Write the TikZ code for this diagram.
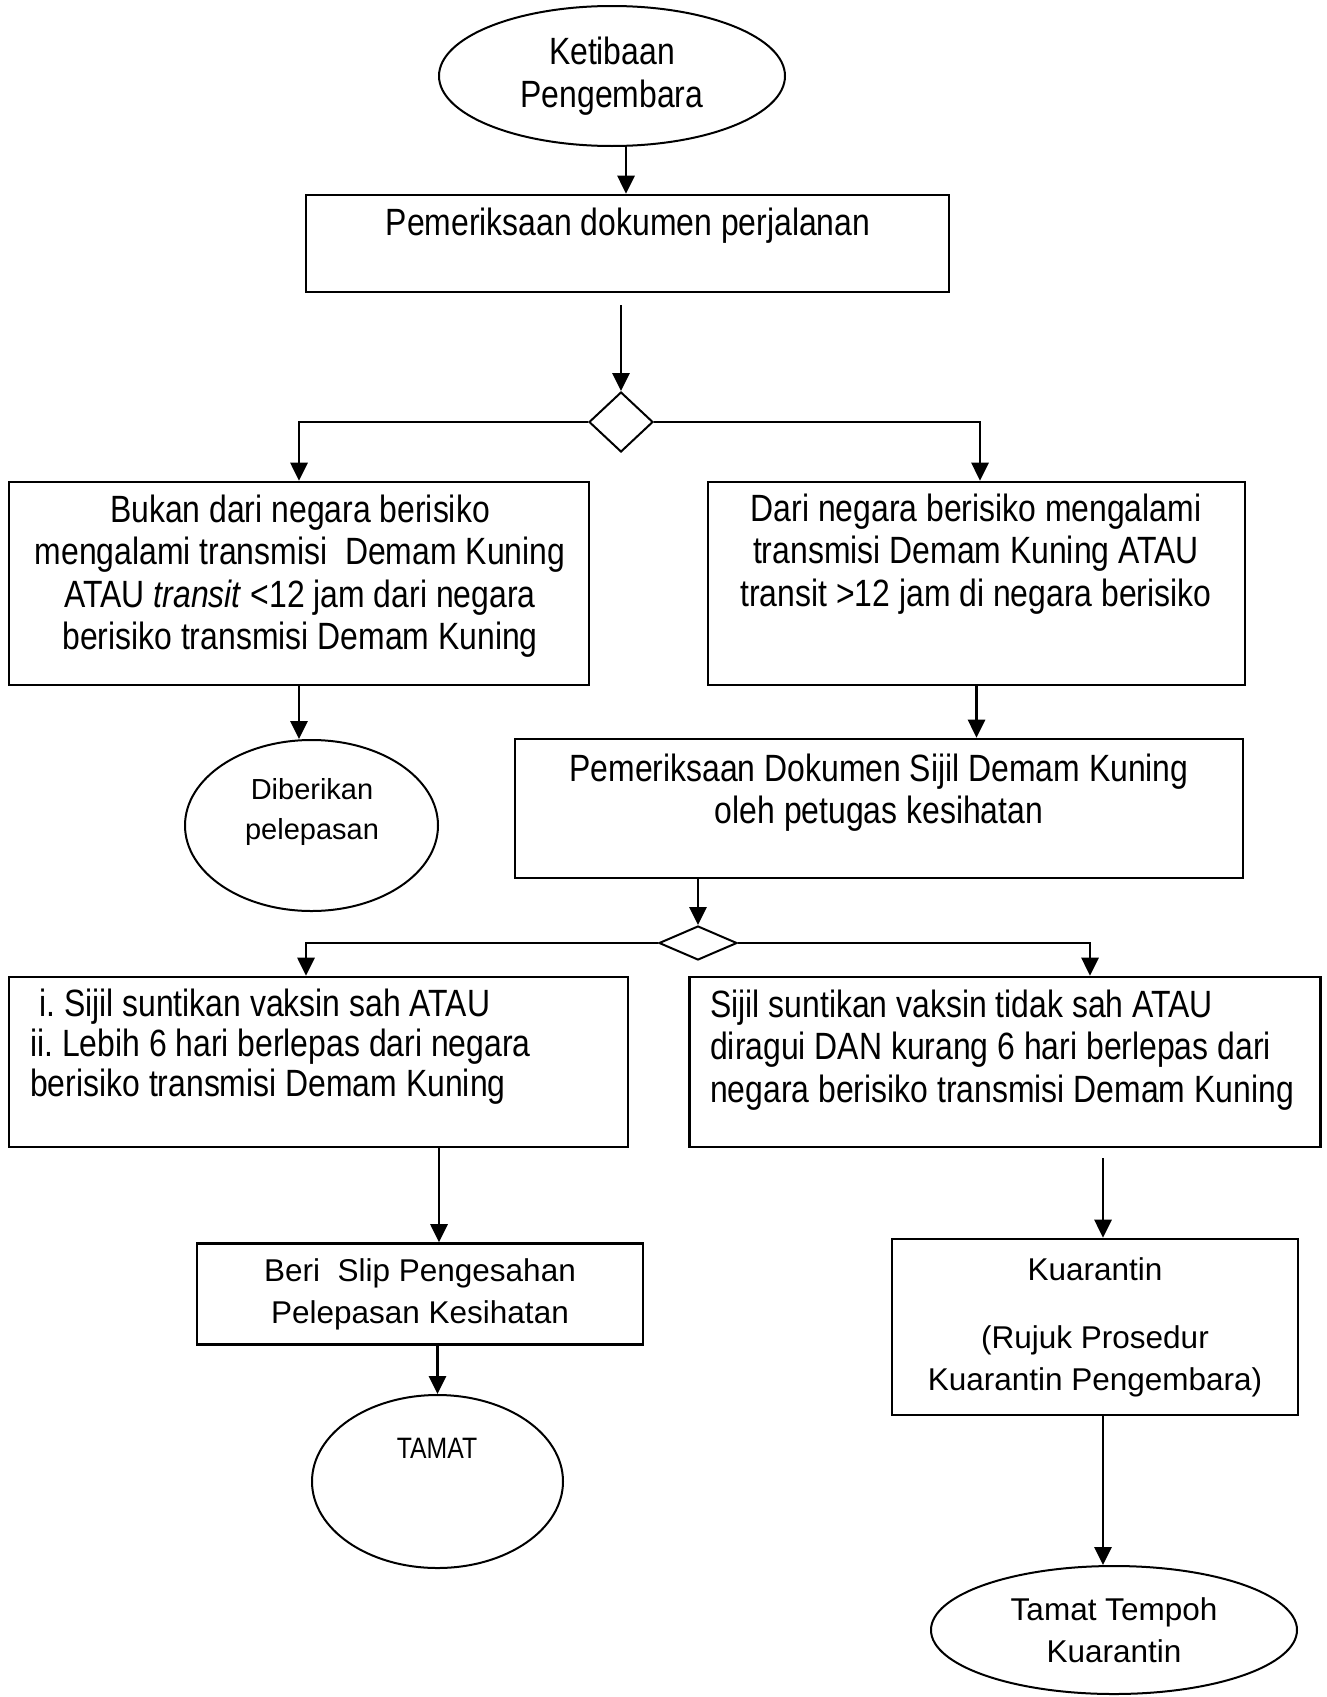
\documentclass[tikz,border=0pt]{standalone}
\usepackage{fontspec}
\setmainfont{Liberation Sans}
\newfontfamily\narrowfont[FakeStretch=0.84]{Liberation Sans}
\usetikzlibrary{shapes.geometric, arrows.meta}
\frenchspacing

\begin{document}
\begin{tikzpicture}[
  x = 1pt, y = -1pt,
  box/.style={draw, line width=2.6pt, rectangle, inner sep=0pt},
  oval/.style={draw, line width=2pt, ellipse, inner sep=0pt},
  choice/.style={draw, line width=2pt, diamond, inner sep=0pt},
  narrowtext/.style={font=\narrowfont\fontsize{38}{42.5}\selectfont, inner sep=0pt},
  plaintext/.style={font=\fontsize{31.5}{42}\selectfont, inner sep=0pt},
  arrow/.style={-{Triangle[length=18pt, width=17pt]}, line width=2.8pt, color=black}
]
    \useasboundingbox (0, 0) rectangle (1327, 1697);

    % Arrival
    \node (arrive) at (612, 76) [oval, minimum width=346pt, minimum height=140pt, narrowtext, align=center] {Ketibaan\\Pengembara};

    % Travel document check
    \node (chk) at (627.5, 243.5) [box, minimum width=643pt, minimum height=97pt] {};
    \node (chkT) at (628, 226) [narrowtext] {Pemeriksaan dokumen perjalanan};

    % Decision 1
    \node (dec1) at (621, 422) [choice, minimum width=64pt, minimum height=60pt] {};

    % Not from a risk country
    \node (nrisk) at (299, 583.5) [box, minimum width=580pt, minimum height=203pt] {};
    \node (nriskT) at (300, 576) [narrowtext, align=center] {Bukan dari negara berisiko\\mengalami transmisi\ \ Demam Kuning\\ATAU \textit{transit} <12 jam dari negara\\berisiko transmisi Demam Kuning};

    % From a risk country
    \node (risk) at (976.5, 583.5) [box, minimum width=537pt, minimum height=203pt] {};
    \node (riskT) at (976, 554) [narrowtext, align=center] {Dari negara berisiko mengalami\\transmisi Demam Kuning ATAU\\transit >12 jam di negara berisiko};

    % Released
    \node (free) at (311.5, 825.5) [oval, minimum width=253pt, minimum height=171pt] {};
    \node (freeT) at (312, 812) [plaintext, font=\fontsize{29}{40}\selectfont, align=center] {Diberikan\\pelepasan};

    % Certificate check
    \node (sijil) at (879, 808.5) [box, minimum width=728pt, minimum height=139pt] {};
    \node (sijilT) at (879, 792.5) [narrowtext, align=center] {Pemeriksaan Dokumen Sijil Demam Kuning\\oleh petugas kesihatan};

    % Decision 2
    \node (dec2) at (698, 943) [choice, minimum width=78pt, minimum height=34pt] {};

    % Valid certificate
    \node (vac) at (318.5, 1062) [box, minimum width=619pt, minimum height=170pt] {};
    \node (vacT) at (30, 1047) [narrowtext, font=\narrowfont\fontsize{38}{40}\selectfont, anchor=west, align=left] {\hspace*{9pt}i. Sijil suntikan vaksin sah ATAU\\ii. Lebih 6 hari berlepas dari negara\\berisiko transmisi Demam Kuning};

    % Invalid certificate
    \node (novac) at (1005, 1062) [box, minimum width=631pt, minimum height=170pt] {};
    \node (novacT) at (710, 1050) [narrowtext, anchor=west, align=left] {Sijil suntikan vaksin tidak sah ATAU\\diragui DAN kurang 6 hari berlepas dari\\negara berisiko transmisi Demam Kuning};

    % Clearance slip
    \node (slip) at (420, 1294) [box, minimum width=446pt, minimum height=101pt, plaintext, align=center] {Beri\ \ Slip Pengesahan\\Pelepasan Kesihatan};

    % End
    \node (tamat) at (437.5, 1481.5) [oval, minimum width=251pt, minimum height=173pt] {};
    \node (tamatT) at (437, 1448) [narrowtext, font=\narrowfont\fontsize{29.5}{36}\selectfont] {TAMAT};

    % Quarantine
    \node (kuar) at (1095, 1327) [box, minimum width=406pt, minimum height=176pt, plaintext, align=center] {Kuarantin\\[26pt](Rujuk Prosedur\\Kuarantin Pengembara)};

    % End of quarantine
    \node (done) at (1114, 1630) [oval, minimum width=366pt, minimum height=128pt, plaintext, align=center] {Tamat Tempoh\\Kuarantin};

    % Arrow start points
    \coordinate (arriveOut) at (626, 146);
    \coordinate (chkOut) at (621, 305);
    \coordinate (novacOut) at (1103, 1158);
    \coordinate (kuarOut) at (1103, 1415);

    % Arrows
    \draw[arrow] (arriveOut) -- (arriveOut |- chk.north);
    \draw[arrow] (chkOut) -- (dec1.north);
    \draw[arrow] (dec1.west) -| (nrisk.north);
    \draw[arrow] (dec1.east) -| ([xshift=3.5pt]risk.north);
    \draw[arrow] (nrisk.south) -- (nrisk.south |- free.north);
    \draw[arrow] (risk.south) -- (risk.south |- sijil.north);
    \draw[arrow] (sijil.south -| dec2.north) -- (dec2.north);
    \draw[arrow] (dec2.west) -| ([xshift=-12.5pt]vac.north);
    \draw[arrow] (dec2.east) -| ([xshift=85pt]novac.north);
    \draw[arrow] ([xshift=120.5pt]vac.south) -- ([xshift=19pt]slip.north);
    \draw[arrow] (slip.south -| tamat.north) -- (tamat.north);
    \draw[arrow] (novacOut) -- (novacOut |- kuar.north);
    \draw[arrow] (kuarOut) -- (kuarOut |- done.north);
\end{tikzpicture}
\end{document}
